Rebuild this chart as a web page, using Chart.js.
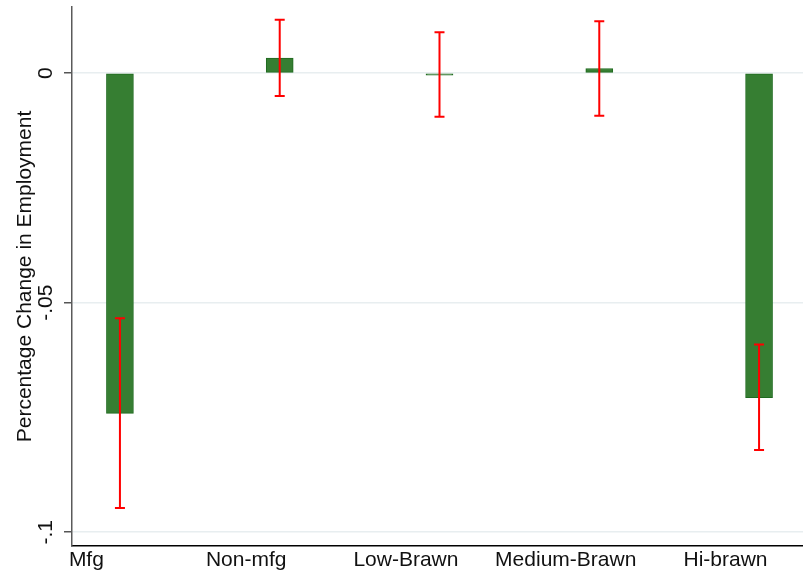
<!DOCTYPE html>
<html>
<head>
<meta charset="utf-8">
<script src="https://cdn.jsdelivr.net/npm/chart.js@4/dist/chart.umd.min.js"></script>
<style>
  html, body { margin: 0; padding: 0; background: #ffffff; }
  #wrap { width: 803px; height: 576px; }
</style>
</head>
<body>
<div id="wrap"><canvas id="c" width="803" height="576"></canvas></div>
<script>
// Employment effects by sector group, with confidence intervals
const categories = ['Mfg', 'Non-mfg', 'Low-Brawn', 'Medium-Brawn', 'Hi-brawn'];
const estimates  = [-0.0741, 0.0033, -0.0004, 0.0010, -0.0707];
const ciLower    = [-0.0947, -0.0050, -0.0095, -0.0093, -0.0821];
const ciUpper    = [-0.0534, 0.0116, 0.0089, 0.0113, -0.0591];
const yTickValues = [0, -0.05, -0.1];
const yTickLabels = ['0', '-.05', '-.1'];

const FONT = 'Liberation Sans, Arial, Helvetica, sans-serif';

// bars sit at positions 1..5; category labels sit slightly to the left
const barPositions = categories.map((_, i) => i + 1);
const labelPositions = categories.map((_, i) => i + 0.79);

const errorBars = {
  id: 'errorBars',
  afterDatasetsDraw(chart) {
    const { ctx, scales: { x, y } } = chart;
    ctx.save();
    ctx.strokeStyle = '#ff0000';
    ctx.lineWidth = 2;
    barPositions.forEach((p, i) => {
      const px = x.getPixelForValue(p);
      const top = y.getPixelForValue(ciUpper[i]);
      const bot = y.getPixelForValue(ciLower[i]);
      ctx.beginPath();
      ctx.moveTo(px, top); ctx.lineTo(px, bot);
      ctx.moveTo(px - 5, top); ctx.lineTo(px + 5, top);
      ctx.moveTo(px - 5, bot); ctx.lineTo(px + 5, bot);
      ctx.stroke();
    });
    ctx.restore();
  }
};

new Chart(document.getElementById('c'), {
  type: 'bar',
  data: {
    datasets: [{
      data: barPositions.map((p, i) => ({ x: p, y: estimates[i] })),
      backgroundColor: '#367e32',
      borderColor: '#1f6a1f',
      borderWidth: 1,
      borderSkipped: false,
      barThickness: 27,
      minBarLength: 2
    }]
  },
  options: {
    responsive: false,
    animation: false,
    layout: { padding: { left: 0, top: 7, right: 0, bottom: 0 } },
    plugins: { legend: { display: false }, tooltip: { enabled: false } },
    scales: {
      x: {
        type: 'linear',
        offset: false,
        min: 0.7,
        max: 5.275,
        afterBuildTicks(axis) { axis.ticks = labelPositions.map(v => ({ value: v })); },
        afterFit(axis) { axis.height = 30; axis.paddingLeft = 0; axis.paddingRight = 0; },
        ticks: {
          padding: -6,
          color: '#111',
          font: { family: FONT, size: 21 },
          maxRotation: 0,
          autoSkip: false,
          callback(value) {
            const i = labelPositions.findIndex(v => Math.abs(v - value) < 1e-6);
            return i >= 0 ? categories[i] : '';
          }
        },
        grid: { display: false },
        border: { display: true, color: '#000000', width: 1.5 }
      },
      y: {
        min: -0.103,
        max: 0.0144,
        afterBuildTicks(axis) { axis.ticks = yTickValues.map(v => ({ value: v })); },
        afterFit(axis) { axis.width = 72; axis.paddingTop = 0; axis.paddingBottom = 0; },
        ticks: {
          padding: 0,
          color: '#111',
          font: { family: FONT, size: 21 },
          minRotation: 90,
          maxRotation: 90,
          crossAlign: 'center',
          callback(value) {
            const i = yTickValues.findIndex(v => Math.abs(v - value) < 1e-9);
            return i >= 0 ? yTickLabels[i] : '';
          }
        },
        grid: { color: '#e8eef0', lineWidth: 1.5, tickColor: '#555555', tickLength: 8 },
        border: { display: true, color: '#5a5a5a', width: 1.5 },
        title: {
          display: true,
          text: 'Percentage Change in Employment',
          color: '#111',
          font: { family: FONT, size: 21 },
          padding: { top: 13, bottom: 0 }
        }
      }
    }
  },
  plugins: [errorBars]
});
</script>
</body>
</html>
